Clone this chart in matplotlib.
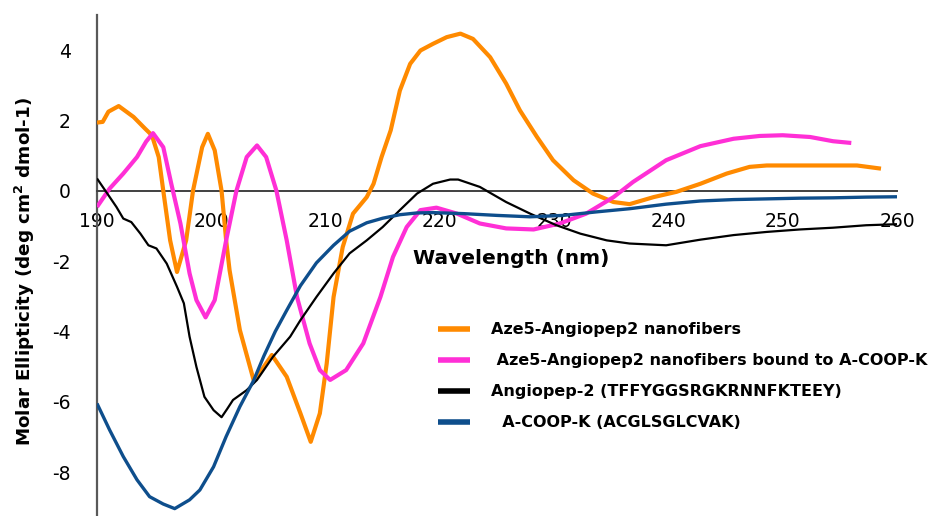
import matplotlib
matplotlib.use("Agg")
import matplotlib.pyplot as plt

# ---- data ----
wl_aze5 = [190, 190.5, 191.0, 191.9, 193.2, 194.2, 194.8, 195.4, 195.8, 196.4, 197.0, 197.8, 198.4,
           199.2, 199.7, 200.3, 200.9, 201.3, 201.6, 202.5, 203.7, 204.4, 205.3, 206.6, 207.8, 208.7,
           209.5, 210.1, 210.7, 211.5, 212.4, 213.6, 214.2, 214.9, 215.7, 216.5, 217.4, 218.3, 219.4,
           220.6, 221.8, 222.9, 224.4, 225.8, 227.0, 228.5, 229.9, 231.7, 233.4, 235.2, 236.6, 238.7,
           240.7, 242.8, 245.1, 247.1, 248.6, 251.5, 254.4, 256.5, 258.6]
cd_aze5 = [1.94, 1.96, 2.25, 2.41, 2.10, 1.77, 1.58, 0.96, 0.0, -1.41, -2.31, -1.41, 0.0,
           1.24, 1.62, 1.15, 0.0, -1.41, -2.26, -3.96, -5.38, -5.10, -4.67, -5.29, -6.33, -7.14,
           -6.33, -4.91, -3.02, -1.60, -0.65, -0.18, 0.20, 0.96, 1.72, 2.85, 3.61, 3.99, 4.18,
           4.37, 4.47, 4.32, 3.80, 3.05, 2.29, 1.53, 0.87, 0.30, -0.08, -0.32, -0.38, -0.18,
           -0.03, 0.20, 0.49, 0.68, 0.72, 0.72, 0.72, 0.72, 0.63]

wl_bound = [190, 191.1, 192.3, 193.5, 194.3, 194.9, 195.8, 196.5, 197.3, 198.1, 198.7, 199.5, 200.3,
            201.3, 202.2, 203.1, 204.0, 204.8, 205.7, 206.6, 207.5, 208.6, 209.5, 210.4, 211.8,
            213.3, 214.8, 215.9, 217.1, 218.3, 219.7, 221.5, 223.5, 225.8, 228.2, 230.5, 232.8,
            235.2, 236.9, 239.8, 242.8, 245.7, 248.0, 250.0, 252.4, 254.4, 256.0]
cd_bound = [-0.46, 0.06, 0.49, 0.96, 1.40, 1.64, 1.24, 0.20, -0.93, -2.35, -3.11, -3.60, -3.11,
            -1.41, 0.0, 0.96, 1.29, 0.96, 0.0, -1.41, -3.02, -4.34, -5.10, -5.38, -5.10,
            -4.34, -3.02, -1.88, -1.03, -0.55, -0.48, -0.65, -0.93, -1.07, -1.10, -0.93, -0.65,
            -0.18, 0.25, 0.87, 1.27, 1.48, 1.56, 1.58, 1.53, 1.41, 1.36]

wl_angio = [190, 190.8, 191.7, 192.3, 193.0, 193.8, 194.5, 195.2, 196.1, 197.0, 197.6, 198.1, 198.7,
            199.4, 200.2, 200.9, 201.4, 201.9, 203.1, 204.0, 205.4, 206.9, 207.8, 209.2, 210.7,
            212.1, 213.6, 215.0, 216.5, 218.0, 219.4, 220.9, 221.6, 223.5, 225.8, 227.9, 230.2,
            232.3, 234.6, 236.6, 239.8, 242.8, 245.7, 248.6, 251.5, 254.4, 257.3, 260]
cd_angio = [0.35, -0.03, -0.46, -0.79, -0.89, -1.22, -1.55, -1.64, -2.07, -2.73, -3.20, -4.15, -5.01,
            -5.86, -6.24, -6.44, -6.20, -5.95, -5.67, -5.38, -4.72, -4.15, -3.68, -3.02, -2.35,
            -1.78, -1.41, -1.03, -0.55, -0.08, 0.20, 0.32, 0.32, 0.11, -0.32, -0.65, -0.98,
            -1.22, -1.41, -1.50, -1.55, -1.39, -1.26, -1.17, -1.10, -1.05, -0.98, -0.95]

wl_coop = [190, 191.1, 192.3, 193.5, 194.6, 195.8, 196.8, 198.1, 199.0, 200.2, 201.3, 202.5, 203.7,
           204.6, 205.6, 206.6, 207.8, 209.2, 210.7, 212.1, 213.6, 215.0, 216.5, 218.0, 219.4,
           222.1, 225.0, 227.9, 230.8, 233.7, 236.6, 239.8, 242.8, 245.7, 248.6, 251.5, 254.4,
           257.3, 260]
cd_coop = [-6.05, -6.80, -7.56, -8.22, -8.70, -8.91, -9.04, -8.79, -8.51, -7.85, -6.99, -6.14, -5.40,
           -4.70, -4.00, -3.40, -2.70, -2.05, -1.55, -1.15, -0.91, -0.78, -0.68, -0.63, -0.62,
           -0.65, -0.70, -0.74, -0.70, -0.60, -0.51, -0.38, -0.29, -0.25, -0.23, -0.21, -0.20,
           -0.18, -0.17]

labels = ["Aze5-Angiopep2 nanofibers",
          " Aze5-Angiopep2 nanofibers bound to A-COOP-K",
          "Angiopep-2 (TFFYGGSRGKRNNFKTEEY)",
          "  A-COOP-K (ACGLSGLCVAK)"]
colors = ["#FF8A00", "#FF2FD6", "#000000", "#0E4E8C"]
widths = [3.0, 3.0, 1.6, 2.4]

xticks = [190, 200, 210, 220, 230, 240, 250, 260]
yticks = [-8, -6, -4, -2, 0, 2, 4]

# ---- figure ----
W, H = 939, 516
fig = plt.figure(figsize=(W / 100, H / 100), dpi=100)
ax = fig.add_axes([97 / W, 0, (897 - 97) / W, (516 - 15) / H])

series = [(wl_aze5, cd_aze5), (wl_bound, cd_bound), (wl_angio, cd_angio), (wl_coop, cd_coop)]
for (x, y), lab, c, lw in zip(series, labels, colors, widths):
    ax.plot(x, y, color=c, lw=lw, label=lab, zorder=3, solid_joinstyle="round", solid_capstyle="butt")

ax.set_xlim(190, 260)
ax.set_ylim(-9.25, 5.0)
ax.set_xticks(xticks)
ax.set_yticks(yticks)
ax.set_xticklabels([str(v) for v in xticks])
ax.set_yticklabels([str(v) for v in yticks])

ax.spines["top"].set_visible(False)
ax.spines["right"].set_visible(False)
ax.spines["bottom"].set_position(("data", 0))
ax.spines["bottom"].set_color("#404040")
ax.spines["bottom"].set_linewidth(1.4)
ax.spines["left"].set_color("#595959")
ax.spines["left"].set_linewidth(1.6)
ax.tick_params(axis="both", length=0, labelsize=13.5, colors="#000000")
ax.tick_params(axis="x", pad=15)
ax.tick_params(axis="y", pad=19)
ax.set_facecolor("none")

fig.text(413 / W, 1 - 258 / H, "Wavelength (nm)", fontsize=14.5, fontweight="bold",
         ha="left", va="center")
fig.text(25 / W, 1 - 271 / H, r"Molar Ellipticity (deg cm$^{\mathbf{2}}$ dmol-1)", fontsize=13.2,
         fontweight="bold", rotation=90, ha="center", va="center")

leg = ax.legend(loc="upper left", bbox_to_anchor=(432 / W, 1 - 316 / H),
                bbox_transform=fig.transFigure, frameon=False,
                prop={"weight": "bold", "size": 11.5}, handlelength=1.95,
                handletextpad=1.35, labelspacing=1.0, borderaxespad=0)
for h in leg.get_lines():
    h.set_linewidth(4)

fig.savefig("out.png", dpi=100)
